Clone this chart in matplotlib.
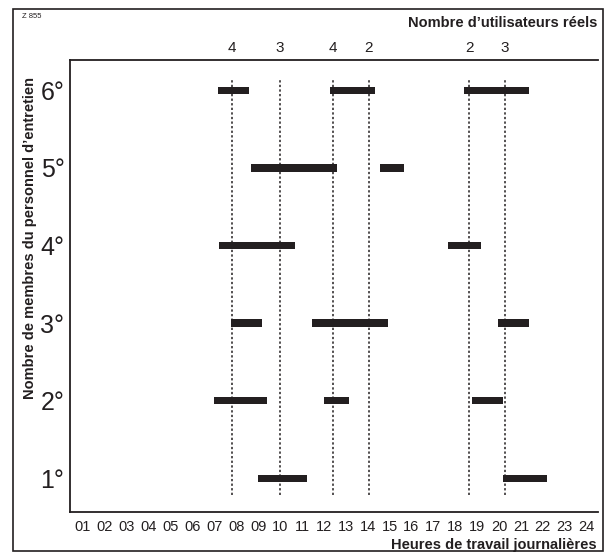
import matplotlib.pyplot as plt
from matplotlib.patches import Rectangle

plt.rcParams['font.family'] = ['Liberation Sans', 'DejaVu Sans']

# staff member rows (1 = bottom) and their working intervals (start, end) in hours
rows = [6, 6, 6, 5, 5, 4, 4, 3, 3, 3, 2, 2, 2, 1, 1]
starts = [7.15, 12.26, 18.41, 8.67, 14.58, 7.21, 17.68, 7.74, 11.47, 19.94, 6.97, 12.02, 18.78, 8.98, 20.18]
ends = [8.59, 14.32, 21.38, 12.61, 15.66, 10.67, 19.19, 9.19, 14.93, 21.38, 9.39, 13.16, 20.16, 11.21, 22.17]

# reference times (dotted lines) with actual number of users
ref_hours = [7.80, 10.0, 12.42, 14.06, 18.63, 20.27]
users = [4, 3, 4, 2, 2, 3]

hour_labels = ['%02d' % h for h in range(1, 25)]
row_labels = ['1°', '2°', '3°', '4°', '5°', '6°']

fig = plt.figure(figsize=(6.05, 5.57), dpi=100)
W, H = 605, 557
ax = fig.add_axes([70 / W, 1 - 512 / H, (598 - 70) / W, (512 - 60) / H])

widths = [e - s for s, e in zip(starts, ends)]
ax.barh(rows, widths, left=starts, height=0.095, color='#231f20')

for h in ref_hours:
    ax.axvline(h, ymin=0.038, ymax=0.956, color='#231f20', linestyle=(0, (1.5, 1.5)), linewidth=1.1)

ax.set_xlim(0.406, 24.52)
ax.set_ylim(0.566, 6.39)

ax.set_xticks(range(1, 25))
ax.set_xticklabels(hour_labels, fontsize=10.5, color='#231f20')
ax.set_yticks(range(1, 7))
ax.set_yticklabels(row_labels, fontsize=18, color='#231f20')
ax.tick_params(axis='x', length=0, pad=6)
ax.tick_params(axis='y', length=0, pad=4)

ax.spines['right'].set_visible(False)
for s in ['left', 'top', 'bottom']:
    ax.spines[s].set_linewidth(1.3)
    ax.spines[s].set_color('#231f20')

# user counts above the plot
for h, n in zip(ref_hours, users):
    ax.text(h, 6.39 + 0.06, str(n), ha='center', va='bottom', fontsize=11, color='#231f20')

fig.text(597 / W, 1 - 23 / H, 'Nombre d\u2019utilisateurs réels', ha='right', va='center',
         fontsize=10.5, fontweight='bold', color='#231f20')
fig.text(597 / W, 1 - 545 / H, 'Heures de travail journalières', ha='right', va='center',
         fontsize=10.5, fontweight='bold', color='#231f20')
fig.text(30 / W, 1 - 238 / H, 'Nombre de membres du personnel d\u2019entretien', rotation=90,
         ha='center', va='center', fontsize=10.5, fontweight='bold', color='#231f20')
fig.text(22 / W, 1 - 17 / H, 'Z 855', ha='left', va='center', fontsize=5.5, color='#231f20')

# outer frame
fig.patches.append(Rectangle((13 / W, 1 - 551 / H), (603 - 13) / W, (551 - 9) / H,
                             transform=fig.transFigure, fill=False, edgecolor='#231f20', linewidth=1.2))

fig.savefig('out.png', dpi=100)
